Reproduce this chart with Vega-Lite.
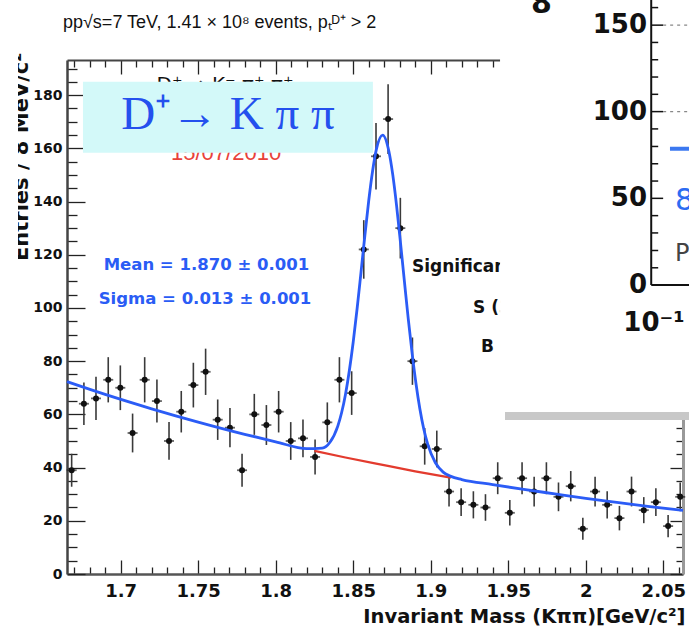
{
  "$schema": "https://vega.github.io/schema/vega-lite/v6.json",
  "width": 616,
  "height": 514,
  "autosize": {"type": "none"},
  "padding": {"left": 67, "top": 60, "right": 6, "bottom": 53},
  "background": "white",
  "config": {"view": {"stroke": null}, "font": "DejaVu Sans"},
  "datasets": {
    "hist": [
      {"x": 1.6684, "n": 39, "lo": 32.8, "hi": 45.2},
      {"x": 1.6763, "n": 64, "lo": 56.0, "hi": 72.0},
      {"x": 1.6841, "n": 66, "lo": 57.9, "hi": 74.1},
      {"x": 1.6920, "n": 73, "lo": 64.5, "hi": 81.5},
      {"x": 1.6998, "n": 70, "lo": 61.6, "hi": 78.4},
      {"x": 1.7077, "n": 53, "lo": 45.7, "hi": 60.3},
      {"x": 1.7155, "n": 73, "lo": 64.5, "hi": 81.5},
      {"x": 1.7234, "n": 65, "lo": 56.9, "hi": 73.1},
      {"x": 1.7312, "n": 50, "lo": 42.9, "hi": 57.1},
      {"x": 1.7391, "n": 61, "lo": 53.2, "hi": 68.8},
      {"x": 1.7469, "n": 71, "lo": 62.6, "hi": 79.4},
      {"x": 1.7548, "n": 76, "lo": 67.3, "hi": 84.7},
      {"x": 1.7626, "n": 58, "lo": 50.4, "hi": 65.6},
      {"x": 1.7705, "n": 55, "lo": 47.6, "hi": 62.4},
      {"x": 1.7783, "n": 39, "lo": 32.8, "hi": 45.2},
      {"x": 1.7862, "n": 60, "lo": 52.3, "hi": 67.7},
      {"x": 1.7940, "n": 56, "lo": 48.5, "hi": 63.5},
      {"x": 1.8019, "n": 61, "lo": 53.2, "hi": 68.8},
      {"x": 1.8097, "n": 50, "lo": 42.9, "hi": 57.1},
      {"x": 1.8176, "n": 51, "lo": 43.9, "hi": 58.1},
      {"x": 1.8254, "n": 44, "lo": 37.4, "hi": 50.6},
      {"x": 1.8333, "n": 57, "lo": 49.5, "hi": 64.5},
      {"x": 1.8411, "n": 73, "lo": 64.5, "hi": 81.5},
      {"x": 1.8490, "n": 68, "lo": 59.8, "hi": 76.2},
      {"x": 1.8568, "n": 122, "lo": 111.0, "hi": 133.0},
      {"x": 1.8647, "n": 157, "lo": 144.5, "hi": 169.5},
      {"x": 1.8725, "n": 171, "lo": 157.9, "hi": 184.1},
      {"x": 1.8804, "n": 130, "lo": 118.6, "hi": 141.4},
      {"x": 1.8882, "n": 80, "lo": 71.1, "hi": 88.9},
      {"x": 1.8961, "n": 48, "lo": 41.1, "hi": 54.9},
      {"x": 1.9039, "n": 47, "lo": 40.1, "hi": 53.9},
      {"x": 1.9118, "n": 31, "lo": 25.4, "hi": 36.6},
      {"x": 1.9196, "n": 27, "lo": 21.8, "hi": 32.2},
      {"x": 1.9275, "n": 26, "lo": 20.9, "hi": 31.1},
      {"x": 1.9353, "n": 25, "lo": 20.0, "hi": 30.0},
      {"x": 1.9432, "n": 36, "lo": 30.0, "hi": 42.0},
      {"x": 1.9510, "n": 23, "lo": 18.2, "hi": 27.8},
      {"x": 1.9589, "n": 36, "lo": 30.0, "hi": 42.0},
      {"x": 1.9667, "n": 31, "lo": 25.4, "hi": 36.6},
      {"x": 1.9746, "n": 36, "lo": 30.0, "hi": 42.0},
      {"x": 1.9824, "n": 29, "lo": 23.6, "hi": 34.4},
      {"x": 1.9903, "n": 33, "lo": 27.3, "hi": 38.7},
      {"x": 1.9981, "n": 17, "lo": 12.9, "hi": 21.1},
      {"x": 2.0060, "n": 31, "lo": 25.4, "hi": 36.6},
      {"x": 2.0138, "n": 26, "lo": 20.9, "hi": 31.1},
      {"x": 2.0217, "n": 21, "lo": 16.4, "hi": 25.6},
      {"x": 2.0295, "n": 31, "lo": 25.4, "hi": 36.6},
      {"x": 2.0374, "n": 24, "lo": 19.1, "hi": 28.9},
      {"x": 2.0452, "n": 27, "lo": 21.8, "hi": 32.2},
      {"x": 2.0531, "n": 18, "lo": 13.8, "hi": 22.2},
      {"x": 2.0609, "n": 29, "lo": 23.6, "hi": 34.4}
    ],
    "fit": [
      {"x": 1.6654, "y": 72.3}, {"x": 1.69, "y": 67.5}, {"x": 1.72, "y": 62.1},
      {"x": 1.75, "y": 57.1}, {"x": 1.78, "y": 52.5}, {"x": 1.8, "y": 49.7},
      {"x": 1.82, "y": 47.1}, {"x": 1.83, "y": 47.3}, {"x": 1.835, "y": 49.5},
      {"x": 1.84, "y": 55.5}, {"x": 1.8425, "y": 60.6}, {"x": 1.845, "y": 67.5},
      {"x": 1.85, "y": 87.2}, {"x": 1.8525, "y": 99.7}, {"x": 1.855, "y": 113.3},
      {"x": 1.8575, "y": 127.1}, {"x": 1.86, "y": 140.3}, {"x": 1.8625, "y": 151.5},
      {"x": 1.865, "y": 159.8}, {"x": 1.869, "y": 165.0}, {"x": 1.873, "y": 158.9},
      {"x": 1.8755, "y": 150.1}, {"x": 1.878, "y": 138.3}, {"x": 1.8805, "y": 124.5},
      {"x": 1.883, "y": 110.1}, {"x": 1.8855, "y": 95.9}, {"x": 1.888, "y": 82.9},
      {"x": 1.8905, "y": 71.5}, {"x": 1.893, "y": 62.0}, {"x": 1.8955, "y": 54.5},
      {"x": 1.898, "y": 48.9}, {"x": 1.903, "y": 41.8}, {"x": 1.908, "y": 38.3},
      {"x": 1.913, "y": 36.7}, {"x": 1.92, "y": 35.5}, {"x": 1.94, "y": 33.6},
      {"x": 1.96, "y": 31.8}, {"x": 1.98, "y": 30.1}, {"x": 2.0, "y": 28.4},
      {"x": 2.02, "y": 26.9}, {"x": 2.04, "y": 25.4}, {"x": 2.0627, "y": 23.9}
    ],
    "bkg": [
      {"x": 1.825, "y": 46.3}, {"x": 1.845, "y": 43.8}, {"x": 1.869, "y": 41.0},
      {"x": 1.89, "y": 38.6}, {"x": 1.913, "y": 36.2}
    ],
    "reaction": [{"x": 1.7673, "y": 181.4, "t": "D⁺ → K⁻ π⁺ π⁺"}],
    "date": [{"x": 1.768, "y": 155.6, "t": "15/07/2010"}],
    "box": [{"x": 1.6757, "x2": 1.8627, "y": 158.3, "y2": 185.0}],
    "boxtext": [{"x": 1.7692, "y": 172.6, "t": "D⁺→ K π π"}],
    "fitpars": [
      {"x": 1.7553, "y": 116.2, "t": "Mean = 1.870 ± 0.001"},
      {"x": 1.7544, "y": 103.4, "t": "Sigma = 0.013 ± 0.001"}
    ],
    "signif": [
      {"x": 1.8879, "y": 115.4, "t": "Significance"},
      {"x": 1.9273, "y": 100.0, "t": "S (3σ)"},
      {"x": 1.9324, "y": 85.3, "t": "B (3σ)"}
    ],
    "panel": [{"x": 1.9447, "x2": 2.08, "y": 60.9, "y2": 216.0}],
    "shelf": [{"x": 1.9479, "x2": 2.08, "y": 57.9, "y2": 60.9}],
    "ovlines": [
      {"x": 2.0422, "x2": 2.0422, "y": 108.6, "y2": 216.0},
      {"x": 2.0422, "x2": 2.08, "y": 108.6, "y2": 108.6}
    ],
    "ovmajor": [{"y": 141.2}, {"y": 173.8}, {"y": 206.3}],
    "ovminor": [
      {"y": 115.1}, {"y": 121.6}, {"y": 128.2}, {"y": 134.7}, {"y": 147.7}, {"y": 154.2},
      {"y": 160.7}, {"y": 167.3}, {"y": 180.3}, {"y": 186.8}, {"y": 193.3}, {"y": 199.8}, {"y": 212.9}
    ],
    "ovgrid": [{"y": 173.8}, {"y": 206.3}],
    "ovlabels": [
      {"y": 108.6, "t": "0"}, {"y": 141.2, "t": "50"}, {"y": 173.8, "t": "100"}, {"y": 206.3, "t": "150"}
    ],
    "ovexp": [{"x": 2.0242, "y": 91.4, "t": "10⁻¹"}],
    "ovlegend": [{"y": 159.8}],
    "oveight": [{"x": 2.0576, "y": 140.2, "t": "8"}],
    "ovp": [{"x": 2.0576, "y": 120.3, "t": "P"}],
    "ovtop": [{"x": 1.9714, "y": 210.9, "t": "8"}],
    "cut": [{"x": 1.62, "x2": 1.6338, "y": -30, "y2": 230}],
    "title": [{"x": 1.6628, "y": 205.3, "t": "pp√s=7 TeV, 1.41 × 10⁸ events, pₜᴰ⁺ > 2"}]
  },
  "layer": [
    {
      "data": {"name": "reaction"},
      "mark": {"type": "text", "font": "DejaVu Sans", "fontSize": 20, "color": "#111", "align": "center", "baseline": "alphabetic"},
      "encoding": {
        "x": {"field": "x", "type": "quantitative", "axis": null},
        "y": {"field": "y", "type": "quantitative", "axis": null},
        "text": {"field": "t"}
      }
    },
    {
      "data": {"name": "date"},
      "mark": {"type": "text", "font": "Liberation Sans", "fontSize": 22, "color": "#e8423a", "align": "center", "baseline": "alphabetic"},
      "encoding": {
        "x": {"field": "x", "type": "quantitative", "axis": null},
        "y": {"field": "y", "type": "quantitative", "axis": null},
        "text": {"field": "t"}
      }
    },
    {
      "data": {"name": "box"},
      "mark": {"type": "rect", "color": "#d3f9f9"},
      "encoding": {
        "x": {"field": "x", "type": "quantitative", "axis": null},
        "x2": {"field": "x2"},
        "y": {"field": "y", "type": "quantitative", "axis": null},
        "y2": {"field": "y2"}
      }
    },
    {
      "data": {"name": "boxtext"},
      "mark": {"type": "text", "font": "Liberation Serif", "fontSize": 47, "color": "#2450ee", "align": "center", "baseline": "middle"},
      "encoding": {
        "x": {"field": "x", "type": "quantitative", "axis": null},
        "y": {"field": "y", "type": "quantitative", "axis": null},
        "text": {"field": "t"}
      }
    },
    {
      "data": {"name": "hist"},
      "mark": {"type": "rule", "color": "#3a3a3a", "strokeWidth": 1.6},
      "encoding": {
        "x": {
          "field": "x", "type": "quantitative",
          "scale": {"domain": [1.6654, 2.0627], "nice": false, "zero": false},
          "axis": {
            "orient": "bottom",
            "values": [1.67,1.68,1.69,1.7,1.71,1.72,1.73,1.74,1.75,1.76,1.77,1.78,1.79,1.8,1.81,1.82,1.83,1.84,1.85,1.86,1.87,1.88,1.89,1.9,1.91,1.92,1.93,1.94,1.95,1.96,1.97,1.98,1.99,2,2.01,2.02,2.03,2.04,2.05,2.06],
            "tickSize": {"condition": {"test": "abs(datum.value*20-round(datum.value*20))<0.001", "value": -14}, "value": -7},
            "tickColor": "#222", "tickWidth": 1.3,
            "domainColor": "#555", "domainWidth": 2.5,
            "labelExpr": "abs(datum.value*20-round(datum.value*20))<0.001 ? format(datum.value,'~g') : ''",
            "labelFont": "DejaVu Sans", "labelFontWeight": "bold", "labelFontSize": 18, "labelColor": "#111", "labelPadding": 22,
            "labelOverlap": false, "labelFlush": false, "labelBound": false,
            "grid": false,
            "title": "Invariant Mass (Kππ)[GeV/c²]",
            "titleFont": "DejaVu Sans", "titleFontWeight": "bold", "titleFontSize": 19.5, "titleColor": "#111",
            "titleAnchor": "end", "titleAlign": "right", "titleBaseline": "alphabetic", "titleX": 618, "titleY": 48
          }
        },
        "y": {
          "field": "lo", "type": "quantitative",
          "scale": {"domain": [0, 193.2], "nice": false, "zero": false},
          "axis": {
            "orient": "left",
            "values": [0,5,10,15,20,25,30,35,40,45,50,55,60,65,70,75,80,85,90,95,100,105,110,115,120,125,130,135,140,145,150,155,160,165,170,175,180,185,190],
            "tickSize": {"condition": {"test": "datum.value % 20 === 0", "value": -18}, "value": -10},
            "tickColor": "#222", "tickWidth": 1.3,
            "domainColor": "#444", "domainWidth": 2.5,
            "labelExpr": "datum.value % 20 === 0 ? datum.label : ''",
            "labelFont": "DejaVu Sans", "labelFontWeight": "bold", "labelFontSize": 14, "labelColor": "#111", "labelPadding": 23,
            "labelOverlap": false, "labelFlush": false, "labelBound": false,
            "grid": false,
            "title": "Entries / 8 MeV/c²",
            "titleFont": "DejaVu Sans", "titleFontWeight": "bold", "titleFontSize": 21, "titleColor": "#111",
            "titleAngle": -90, "titleAlign": "right", "titleBaseline": "alphabetic", "titleX": -40, "titleY": -8
          }
        },
        "y2": {"field": "hi"}
      }
    },
    {
      "data": {"name": "hist"},
      "mark": {"type": "tick", "orient": "horizontal", "size": 10, "thickness": 1.8, "color": "#222"},
      "encoding": {
        "x": {"field": "x", "type": "quantitative", "axis": null},
        "y": {"field": "n", "type": "quantitative", "axis": null}
      }
    },
    {
      "data": {"name": "hist"},
      "mark": {"type": "point", "shape": "circle", "filled": true, "size": 36, "color": "#111", "opacity": 1},
      "encoding": {
        "x": {"field": "x", "type": "quantitative", "axis": null},
        "y": {"field": "n", "type": "quantitative", "axis": null}
      }
    },
    {
      "data": {"name": "bkg"},
      "mark": {"type": "line", "color": "#e33b2e", "strokeWidth": 2.2, "interpolate": "monotone"},
      "encoding": {
        "x": {"field": "x", "type": "quantitative", "axis": null},
        "y": {"field": "y", "type": "quantitative", "axis": null}
      }
    },
    {
      "data": {"name": "fit"},
      "mark": {"type": "line", "color": "#2b5cf6", "strokeWidth": 2.8, "interpolate": "monotone"},
      "encoding": {
        "x": {"field": "x", "type": "quantitative", "axis": null},
        "y": {"field": "y", "type": "quantitative", "axis": null}
      }
    },
    {
      "data": {"name": "fitpars"},
      "mark": {"type": "text", "font": "DejaVu Sans", "fontWeight": "bold", "fontSize": 16.5, "color": "#2a5cf5", "align": "center", "baseline": "middle"},
      "encoding": {
        "x": {
          "field": "x", "type": "quantitative",
          "axis": {
            "orient": "top",
            "values": [1.67,1.68,1.69,1.7,1.71,1.72,1.73,1.74,1.75,1.76,1.77,1.78,1.79,1.8,1.81,1.82,1.83,1.84,1.85,1.86,1.87,1.88,1.89,1.9,1.91,1.92,1.93,1.94,1.95,1.96,1.97,1.98,1.99,2,2.01,2.02,2.03,2.04,2.05,2.06],
            "tickSize": {"condition": {"test": "abs(datum.value*20-round(datum.value*20))<0.001", "value": -14}, "value": -7},
            "tickColor": "#222", "tickWidth": 1.3,
            "domainColor": "#444", "domainWidth": 2,
            "labels": false, "grid": false, "title": null
          }
        },
        "y": {
          "field": "y", "type": "quantitative",
          "axis": {
            "orient": "right",
            "values": [0,5,10,15,20,25,30,35,40,45,50,55,60,65,70,75,80,85,90,95,100,105,110,115,120,125,130,135,140,145,150,155,160,165,170,175,180,185,190],
            "tickSize": {"condition": {"test": "datum.value % 20 === 0", "value": -13}, "value": -7},
            "tickColor": "#222", "tickWidth": 1.3,
            "domainColor": "#999", "domainWidth": 3,
            "labels": false, "grid": false, "title": null
          }
        },
        "text": {"field": "t"}
      }
    },
    {
      "data": {"name": "signif"},
      "mark": {"type": "text", "font": "DejaVu Sans", "fontWeight": "bold", "fontSize": 17, "color": "#111", "align": "left", "baseline": "middle"},
      "encoding": {
        "x": {"field": "x", "type": "quantitative", "axis": null},
        "y": {"field": "y", "type": "quantitative", "axis": null},
        "text": {"field": "t"}
      }
    },
    {
      "data": {"name": "panel"},
      "mark": {"type": "rect", "color": "white"},
      "encoding": {
        "x": {"field": "x", "type": "quantitative", "axis": null},
        "x2": {"field": "x2"},
        "y": {"field": "y", "type": "quantitative", "axis": null},
        "y2": {"field": "y2"}
      }
    },
    {
      "data": {"name": "shelf"},
      "mark": {"type": "rect", "color": "#c8c8c8"},
      "encoding": {
        "x": {"field": "x", "type": "quantitative", "axis": null},
        "x2": {"field": "x2"},
        "y": {"field": "y", "type": "quantitative", "axis": null},
        "y2": {"field": "y2"}
      }
    },
    {
      "data": {"name": "ovlines"},
      "mark": {"type": "rule", "color": "#111", "strokeWidth": 2},
      "encoding": {
        "x": {"field": "x", "type": "quantitative", "axis": null},
        "x2": {"field": "x2"},
        "y": {"field": "y", "type": "quantitative", "axis": null},
        "y2": {"field": "y2"}
      }
    },
    {
      "data": {"name": "ovmajor"},
      "mark": {"type": "rule", "color": "#111", "strokeWidth": 1.5},
      "encoding": {
        "x": {"datum": 2.0422, "type": "quantitative", "axis": null},
        "x2": {"datum": 2.0499},
        "y": {"field": "y", "type": "quantitative", "axis": null}
      }
    },
    {
      "data": {"name": "ovminor"},
      "mark": {"type": "rule", "color": "#111", "strokeWidth": 1.5},
      "encoding": {
        "x": {"datum": 2.0422, "type": "quantitative", "axis": null},
        "x2": {"datum": 2.0467},
        "y": {"field": "y", "type": "quantitative", "axis": null}
      }
    },
    {
      "data": {"name": "ovgrid"},
      "mark": {"type": "rule", "color": "#888", "strokeWidth": 1.2, "strokeDash": [3, 4]},
      "encoding": {
        "x": {"datum": 2.0499, "type": "quantitative", "axis": null},
        "x2": {"datum": 2.08},
        "y": {"field": "y", "type": "quantitative", "axis": null}
      }
    },
    {
      "data": {"name": "ovlabels"},
      "mark": {"type": "text", "font": "DejaVu Sans", "fontWeight": "bold", "fontSize": 26, "color": "#111", "align": "right", "baseline": "middle"},
      "encoding": {
        "x": {"datum": 2.0395, "type": "quantitative", "axis": null},
        "y": {"field": "y", "type": "quantitative", "axis": null},
        "text": {"field": "t"}
      }
    },
    {
      "data": {"name": "ovexp"},
      "mark": {"type": "text", "font": "DejaVu Sans", "fontWeight": "bold", "fontSize": 26, "color": "#111", "align": "left", "baseline": "alphabetic"},
      "encoding": {
        "x": {"field": "x", "type": "quantitative", "axis": null},
        "y": {"field": "y", "type": "quantitative", "axis": null},
        "text": {"field": "t"}
      }
    },
    {
      "data": {"name": "ovlegend"},
      "mark": {"type": "rule", "color": "#3b78f0", "strokeWidth": 4},
      "encoding": {
        "x": {"datum": 2.0543, "type": "quantitative", "axis": null},
        "x2": {"datum": 2.08},
        "y": {"field": "y", "type": "quantitative", "axis": null}
      }
    },
    {
      "data": {"name": "oveight"},
      "mark": {"type": "text", "font": "DejaVu Sans", "fontSize": 30, "color": "#2d6cf2", "align": "left", "baseline": "middle"},
      "encoding": {
        "x": {"field": "x", "type": "quantitative", "axis": null},
        "y": {"field": "y", "type": "quantitative", "axis": null},
        "text": {"field": "t"}
      }
    },
    {
      "data": {"name": "ovp"},
      "mark": {"type": "text", "font": "DejaVu Sans", "fontSize": 24, "color": "#444", "align": "left", "baseline": "middle"},
      "encoding": {
        "x": {"field": "x", "type": "quantitative", "axis": null},
        "y": {"field": "y", "type": "quantitative", "axis": null},
        "text": {"field": "t"}
      }
    },
    {
      "data": {"name": "ovtop"},
      "mark": {"type": "text", "font": "DejaVu Sans", "fontWeight": "bold", "fontSize": 30, "color": "#111", "align": "center", "baseline": "alphabetic"},
      "encoding": {
        "x": {"field": "x", "type": "quantitative", "axis": null},
        "y": {"field": "y", "type": "quantitative", "axis": null},
        "text": {"field": "t"}
      }
    },
    {
      "data": {"name": "cut"},
      "mark": {"type": "rect", "color": "white"},
      "encoding": {
        "x": {"field": "x", "type": "quantitative", "axis": null},
        "x2": {"field": "x2"},
        "y": {"field": "y", "type": "quantitative", "axis": null},
        "y2": {"field": "y2"}
      }
    },
    {
      "data": {"name": "title"},
      "mark": {"type": "text", "font": "Liberation Sans", "fontSize": 18, "color": "#111", "align": "left", "baseline": "alphabetic"},
      "encoding": {
        "x": {"field": "x", "type": "quantitative", "axis": null},
        "y": {"field": "y", "type": "quantitative", "axis": null},
        "text": {"field": "t"}
      }
    }
  ]
}
